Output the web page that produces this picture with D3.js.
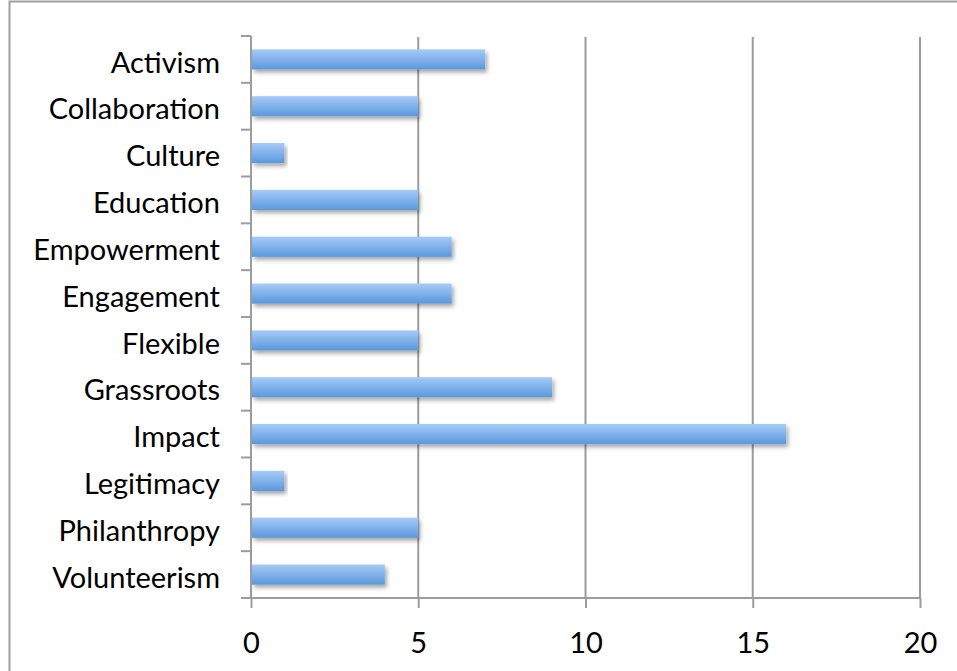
<!DOCTYPE html>
<html>
<head>
<meta charset="utf-8">
<script src="https://cdn.jsdelivr.net/npm/d3@7"></script>
<style>
  body { margin: 0; background: #fff; }
  svg { display: block; }
  text { font-family: Lato, "Open Sans", sans-serif; fill: #000; }
</style>
</head>
<body>
<div id="chart"></div>
<script>
const categories = ["Activism", "Collaboration", "Culture", "Education", "Empowerment", "Engagement",
  "Flexible", "Grassroots", "Impact", "Legitimacy", "Philanthropy", "Volunteerism"];
const counts = [7, 5, 1, 5, 6, 6, 5, 9, 16, 1, 5, 4];
const xTicks = [0, 5, 10, 15, 20];

const width = 957;
const height = 671;
const margin = { left: 251, right: 37, top: 36, bottom: 73 };

const svg = d3.select("#chart")
  .append("svg")
  .attr("width", width)
  .attr("height", height);

const defs = svg.append("defs");

const grad = defs.append("linearGradient")
  .attr("id", "barGrad")
  .attr("x1", 0).attr("y1", 0)
  .attr("x2", 0).attr("y2", 1);
grad.append("stop").attr("offset", "0%").attr("stop-color", "#a6cbf8");
grad.append("stop").attr("offset", "100%").attr("stop-color", "#5a98dc");

const shadow = defs.append("filter")
  .attr("id", "shadow")
  .attr("x", "-5%").attr("y", "-30%")
  .attr("width", "115%").attr("height", "190%");
shadow.append("feDropShadow")
  .attr("dx", 2).attr("dy", 3)
  .attr("stdDeviation", 2.2)
  .attr("flood-color", "#000")
  .attr("flood-opacity", 0.35);

// outer chart frame
svg.append("rect")
  .attr("x", 9.5).attr("y", 1.5)
  .attr("width", 980).attr("height", 700)
  .style("fill", "none")
  .style("stroke", "#a0a0a0")
  .style("stroke-width", 2);

const x = d3.scaleLinear()
  .domain([0, 20])
  .range([margin.left, width - margin.right]);

const y = d3.scaleBand()
  .domain(categories)
  .range([margin.top, height - margin.bottom])
  .paddingInner(0.57)
  .paddingOuter(0.285);

const plotBottom = height - margin.bottom;
const lineColor = "#9c9c9c";

// vertical gridlines
svg.append("g")
  .selectAll("line")
  .data(xTicks.filter(d => d > 0))
  .enter()
  .append("line")
  .attr("x1", d => x(d)).attr("x2", d => x(d))
  .attr("y1", margin.top + 1).attr("y2", plotBottom)
  .style("stroke", lineColor)
  .style("stroke-width", 2);

// bars
svg.append("g")
  .selectAll("rect")
  .data(categories)
  .enter()
  .append("rect")
  .attr("x", x(0) + 1)
  .attr("y", d => y(d))
  .attr("width", (d, i) => x(counts[i]) - x(0) - 1)
  .attr("height", y.bandwidth())
  .style("fill", "url(#barGrad)")
  .attr("filter", "url(#shadow)");

// x axis
const xAxis = d3.axisBottom(x)
  .tickValues(xTicks)
  .tickSize(10)
  .tickPadding(24);

const gx = svg.append("g")
  .attr("transform", `translate(0,${plotBottom})`)
  .call(xAxis);
gx.select(".domain").attr("d", `M${x(0)},0H${x(20)}`);
gx.selectAll("line, path").style("stroke", lineColor).style("stroke-width", 2);
gx.selectAll("text").style("font-size", "29px").style("fill", "#000");

// y axis with ticks on band boundaries
const gy = svg.append("g");
gy.append("line")
  .attr("x1", x(0)).attr("x2", x(0))
  .attr("y1", margin.top).attr("y2", plotBottom)
  .style("stroke", lineColor).style("stroke-width", 2);

const bounds = d3.range(categories.length + 1).map(i => margin.top + i * (plotBottom - margin.top) / categories.length);
gy.selectAll("line.tick")
  .data(bounds)
  .enter()
  .append("line")
  .attr("class", "tick")
  .attr("x1", x(0) - 10).attr("x2", x(0))
  .attr("y1", d => d).attr("y2", d => d)
  .style("stroke", lineColor).style("stroke-width", 2);

gy.selectAll("text")
  .data(categories)
  .enter()
  .append("text")
  .attr("x", x(0) - 31)
  .attr("y", d => y(d) + y.bandwidth() / 2 + 3)
  .attr("dy", "0.35em")
  .attr("text-anchor", "end")
  .style("font-size", "29px")
  .text(d => d);
</script>
</body>
</html>
